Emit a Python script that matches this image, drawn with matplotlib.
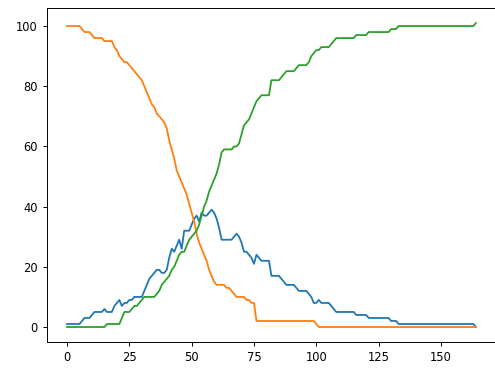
import matplotlib
matplotlib.use('Agg')
import matplotlib.pyplot as plt

# susceptible / infected / recovered counts per step
susceptible = [
    100, 100, 100, 100, 100, 100, 99, 98, 98, 98, 97, 96, 96, 96, 96, 95, 95, 95, 95, 93,
    92, 90, 89, 88, 88, 87, 86, 85, 84, 83, 82, 80, 78, 76, 74, 73, 71, 70, 69, 68,
    66, 62, 59, 56, 52, 50, 48, 46, 44, 41, 38, 35, 31, 28, 26, 24, 22, 19, 17, 15,
    14, 14, 14, 14, 13, 13, 12, 11, 10, 10, 10, 10, 9, 9, 8, 8, 2, 2, 2, 2,
    2, 2, 2, 2, 2, 2, 2, 2, 2, 2, 2, 2, 2, 2, 2, 2, 2, 2, 2, 2,
    1, 0, 0, 0, 0, 0, 0, 0, 0, 0, 0, 0, 0, 0, 0, 0, 0, 0, 0, 0,
    0, 0, 0, 0, 0, 0, 0, 0, 0, 0, 0, 0, 0, 0, 0, 0, 0, 0, 0, 0,
    0, 0, 0, 0, 0, 0, 0, 0, 0, 0, 0, 0, 0, 0, 0, 0, 0, 0, 0, 0,
    0, 0, 0, 0, 0,
]
infected = [
    1, 1, 1, 1, 1, 1, 2, 3, 3, 3, 4, 5, 5, 5, 5, 6, 5, 5, 5, 7,
    8, 9, 7, 8, 8, 9, 9, 10, 10, 10, 10, 12, 14, 16, 17, 18, 19, 19, 18, 18,
    19, 23, 26, 25, 27, 29, 26, 32, 32, 32, 34, 36, 37, 35, 38, 37, 37, 38, 39, 38,
    36, 33, 29, 29, 29, 29, 29, 30, 31, 30, 28, 25, 25, 24, 23, 21, 24, 23, 22, 22,
    22, 22, 17, 17, 17, 17, 16, 15, 14, 14, 14, 14, 13, 12, 12, 12, 12, 11, 10, 8,
    8, 9, 8, 8, 8, 8, 7, 6, 5, 5, 5, 5, 5, 5, 5, 5, 4, 4, 4, 4,
    4, 3, 3, 3, 3, 3, 3, 3, 3, 3, 2, 2, 2, 1, 1, 1, 1, 1, 1, 1,
    1, 1, 1, 1, 1, 1, 1, 1, 1, 1, 1, 1, 1, 1, 1, 1, 1, 1, 1, 1,
    1, 1, 1, 1, 0,
]
recovered = [
    0, 0, 0, 0, 0, 0, 0, 0, 0, 0, 0, 0, 0, 0, 0, 0, 1, 1, 1, 1,
    1, 1, 3, 5, 5, 5, 6, 7, 7, 8, 9, 10, 10, 10, 10, 10, 11, 12, 14, 15,
    16, 17, 19, 20, 22, 24, 25, 25, 27, 29, 30, 31, 32, 34, 37, 40, 42, 45, 47, 49,
    51, 54, 58, 59, 59, 59, 59, 60, 60, 61, 64, 67, 68, 69, 71, 73, 75, 76, 77, 77,
    77, 77, 82, 82, 82, 82, 83, 84, 85, 85, 85, 85, 86, 87, 87, 87, 87, 88, 90, 91,
    92, 92, 93, 93, 93, 93, 94, 95, 96, 96, 96, 96, 96, 96, 96, 96, 97, 97, 97, 97,
    97, 98, 98, 98, 98, 98, 98, 98, 98, 98, 99, 99, 99, 100, 100, 100, 100, 100, 100, 100,
    100, 100, 100, 100, 100, 100, 100, 100, 100, 100, 100, 100, 100, 100, 100, 100, 100, 100, 100, 100,
    100, 100, 100, 100, 101,
]
steps = list(range(len(susceptible)))

fig = plt.figure(figsize=(4.95, 3.69), dpi=100)
# screenshot was cropped on the right, so the axes run a bit past the edge
ax = fig.add_axes([0.0941, 0.0726, 0.9085, 0.9062])
ax.plot(steps, infected, color='C0', linewidth=1.3)
ax.plot(steps, susceptible, color='C1', linewidth=1.3)
ax.plot(steps, recovered, color='C2', linewidth=1.3)
ax.set_xticks([0, 25, 50, 75, 100, 125, 150])
ax.set_yticks([0, 20, 40, 60, 80, 100])
ax.tick_params(labelsize=8.3, length=2.9, width=0.7)
for s in ax.spines.values():
    s.set_linewidth(0.7)
fig.savefig('out.png', dpi=100)
plt.close(fig)
